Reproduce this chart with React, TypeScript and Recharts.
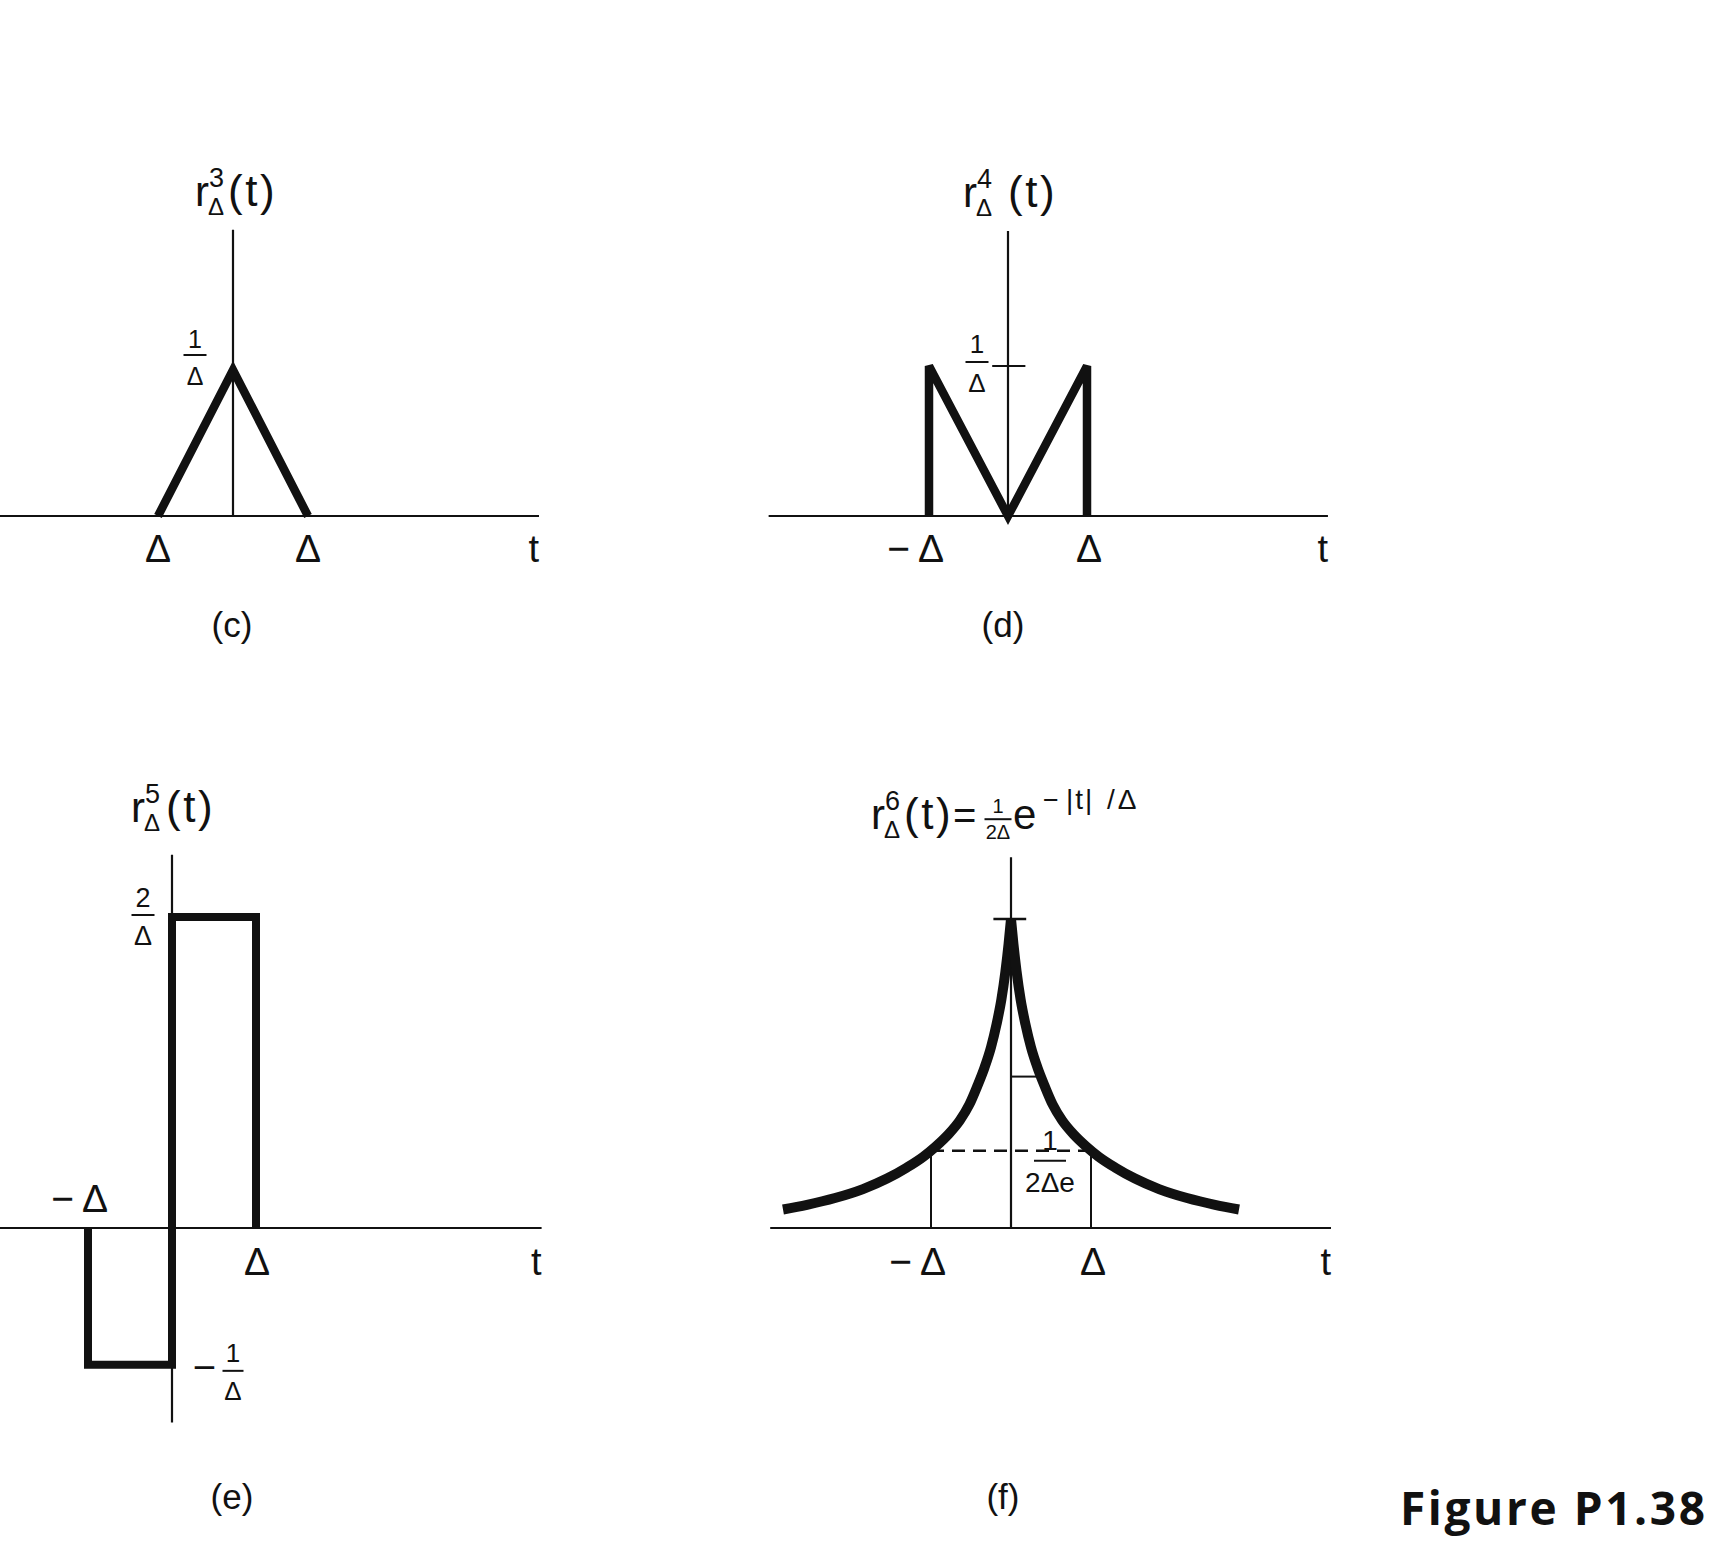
import React from 'react';
import { LineChart, Line, XAxis, YAxis, ReferenceLine, ReferenceDot } from 'recharts';

const FONT = '"Liberation Sans", Arial, Helvetica, sans-serif';
const INK = '#111111';

// ---------------- values (t in units of Δ) ----------------
// (c) r³Δ(t) — amplitude in units of 1/Δ
const cT = [-1, 0, 1];
const cR = [0, 1, 0];
// (d) r⁴Δ(t)
const dT = [-1, -1, 0, 1, 1];
const dR = [0, 1, 0, 1, 0];
// (e) r⁵Δ(t)
const eT = [-1, -1, 0, 0, 1, 1];
const eR = [0, -0.88, -0.88, 2, 2, 0];
// (f) r⁶Δ(t) — amplitude in units of 1/(2Δ)
const fTLeft = [-2.85, -2.55, -2.2, -1.85, -1.55, -1.3, -1.1, -0.94, -0.78, -0.64, -0.52, -0.42, -0.33, -0.25, -0.18, -0.12, -0.07, -0.03, 0];
const fRLeft = [0.06, 0.075, 0.097, 0.126, 0.16, 0.196, 0.23, 0.264, 0.304, 0.348, 0.4, 0.46, 0.52, 0.585, 0.66, 0.74, 0.83, 0.92, 1.0];
const fTRight = [0, 0.03, 0.07, 0.12, 0.18, 0.25, 0.33, 0.42, 0.52, 0.64, 0.78, 0.94, 1.1, 1.3, 1.55, 1.85, 2.2, 2.55, 2.85];
const fRRight = [1.0, 0.92, 0.83, 0.74, 0.66, 0.585, 0.52, 0.46, 0.4, 0.348, 0.304, 0.264, 0.23, 0.196, 0.16, 0.126, 0.097, 0.075, 0.06];

// axis extents
const cAxisT = [-3.11, 4.08];
const cAxisR = [0, 1.96];
const dAxisT = [-3.03, 4.05];
const dAxisR = [0, 1.9];
const eAxisT = [-2.05, 4.4];
const eAxisR = [-1.25, 2.4];
const fAxisT = [-3.01, 4.0];
const fAxisR = [0, 1.2];

// marked levels and guide lines
const cLevel = 1;
const dLevel = 1;
const dTickSpan = [-0.2, 0.22];
const eTop = 2;
const eBottom = -0.88;
const fPeak = 1;
const fPeakTickSpan = [-0.22, 0.19];
const fGuideLevel = 0.25; // 1/(2Δe)
const fGuideT = [-1, 1];
const fInnerLevel = 0.49;
const fInnerT = [0, 0.375];

// text
const xTickT = [-1, 1];
const cTickText = ['Δ', 'Δ'];
const dTickText = ['−Δ', 'Δ'];
const eTickText = ['−Δ', 'Δ'];
const fTickText = ['−Δ', 'Δ'];
const superscripts = ['3', '4', '5', '6'];
const captions = ['(c)', '(d)', '(e)', '(f)'];
const figureLabel = 'Figure P1.38';

// ---------------- tables built from the arrays ----------------
const cData = cT.map((t, i) => ({ t, r: cR[i] }));
const dData = dT.map((t, i) => ({ t, r: dR[i] }));
const eData = eT.map((t, i) => ({ t, r: eR[i] }));
const fData = [
  ...fTLeft.map((t, i) => ({ t, left: fRLeft[i], right: null as number | null })),
  ...fTRight.map((t, i) => ({ t, left: null as number | null, right: fRRight[i] })),
];

// ---------------- layout ----------------
type Geo = { ox: number; oy: number; ux: number; uy: number; box: [number, number, number, number] };
const geoC: Geo = { ox: 233, oy: 516, ux: 75, uy: 146, box: [0, 140, 600, 680] };
const geoD: Geo = { ox: 1008, oy: 516, ux: 79, uy: 150, box: [740, 140, 1360, 680] };
const geoE: Geo = { ox: 172, oy: 1228, ux: 84, uy: 155.5, box: [0, 760, 600, 1545] };
const geoF: Geo = { ox: 1011, oy: 1228, ux: 80, uy: 309, box: [740, 760, 1380, 1545] };

function Panel({ geo, data, children }: { geo: Geo; data: any[]; children: React.ReactNode }) {
  const [l, t, r, b] = geo.box;
  const w = r - l;
  const h = b - t;
  const xDom = [(l - geo.ox) / geo.ux, (r - geo.ox) / geo.ux];
  const yDom = [(geo.oy - b) / geo.uy, (geo.oy - t) / geo.uy];
  return (
    <div style={{ position: 'absolute', left: l, top: t, width: w, height: h }}>
      <LineChart width={w} height={h} data={data} margin={{ top: 0, right: 0, bottom: 0, left: 0 }}>
        <XAxis type="number" dataKey="t" domain={xDom} allowDataOverflow hide />
        <YAxis type="number" domain={yDom} allowDataOverflow hide />
        {children}
      </LineChart>
    </div>
  );
}

const txt = (x: number, y: number, s: string, size: number, anchor: string = 'middle', key?: string, ls?: number) => (
  <text key={key} x={x} y={y} fontSize={size} fontFamily={FONT} fill={INK} textAnchor={anchor as any} letterSpacing={ls}>
    {s}
  </text>
);

function mark(key: string, x: number, y: number, draw: (cx: number, cy: number) => React.ReactElement) {
  return (
    <ReferenceDot
      key={key}
      x={x}
      y={y}
      r={0}
      fill="none"
      stroke="none"
      ifOverflow="visible"
      isFront
      shape={(p: any) => draw(p.cx, p.cy)}
    />
  );
}

function seg(key: string, x1: number, y1: number, x2: number, y2: number, width = 2, dash?: string) {
  return (
    <ReferenceLine
      key={key}
      segment={[{ x: x1, y: y1 }, { x: x2, y: y2 }]}
      stroke={INK}
      strokeWidth={width}
      strokeDasharray={dash}
      ifOverflow="visible"
    />
  );
}

const axes = (k: string, tx: number[], ry: number[]) => [
  seg(k + 'x', tx[0], 0, tx[1], 0, 2.2),
  seg(k + 'y', 0, ry[0], 0, ry[1], 2.2),
];

// tick label such as "Δ" or "−Δ" centred (by its Δ) on x
const tickLabel = (x: number, y: number, s: string, size = 39) => {
  if (s.startsWith('−')) {
    return (
      <text x={x + 13} y={y} fontSize={size} fontFamily={FONT} fill={INK} textAnchor="end">
        −<tspan dx={8}>Δ</tspan>
      </text>
    );
  }
  return txt(x, y, s, size);
};

const frac = (cx: number, numY: number, barY: number, denY: number, num: string, den: string, size: number, barW: number) => (
  <g>
    {txt(cx, numY, num, size)}
    <line x1={cx - barW / 2} x2={cx + barW / 2} y1={barY} y2={barY} stroke={INK} strokeWidth={2} />
    {txt(cx, denY, den, size)}
  </g>
);

// r^n_Δ(t) title: x = left of "r", y = baseline
const rTitle = (x: number, y: number, n: string, gap: number) => (
  <g>
    {txt(x, y, 'r', 42, 'start')}
    {txt(x + 14, y - 19, n, 27, 'start')}
    {txt(x + 13, y + 9, 'Δ', 24, 'start')}
    {txt(x + gap, y, '(t)', 44, 'start', undefined, 2.5)}
  </g>
);

const fTitle = (x: number, y: number) => (
  <g>
    {rTitle(x, y, superscripts[3], 33)}
    {txt(x + 82, y, '=', 40, 'start')}
    {frac(x + 127, y - 16, y - 10, y + 10, '1', '2Δ', 20, 27)}
    {txt(x + 142, y, 'e', 42, 'start')}
    {txt(x + 172, y - 20, '−', 27, 'start')}
    {txt(x + 195, y - 20, '|t|', 28, 'start', undefined, 2)}
    {txt(x + 236, y - 20, '/Δ', 28, 'start', undefined, 3)}
  </g>
);

const lineProps = {
  type: 'linear' as const,
  stroke: INK,
  dot: false,
  activeDot: false,
  isAnimationActive: false,
  strokeLinejoin: 'miter' as const,
  strokeMiterlimit: 4,
};

export default function App() {
  return (
    <div style={{ position: 'absolute', left: 0, top: 0, width: 1736, height: 1558, background: '#ffffff', overflow: 'hidden' }}>
      <style>{'.recharts-surface{overflow:visible}'}</style>

      {/* (c) */}
      <Panel geo={geoC} data={cData}>
        {axes('c', cAxisT, cAxisR)}
        <Line dataKey="r" {...lineProps} strokeWidth={8.5} />
        {xTickT.map((t, i) => mark('ct' + i, t, 0, (x, y) => tickLabel(x, y + 46, cTickText[i])))}
        {mark('ctt', cAxisT[1], 0, (x, y) => txt(x, y + 46, 't', 38, 'end'))}
        {mark('cy', 0, cLevel, (x, y) => frac(x - 38, y - 22, y - 15, y + 15, '1', 'Δ', 25, 23))}
        {mark('ctitle', 0, cAxisR[1], (x, y) => rTitle(x - 38, y - 24, superscripts[0], 33))}
        {mark('ccap', 0, 0, (x, y) => txt(x - 1, y + 121, captions[0], 35))}
      </Panel>

      {/* (d) */}
      <Panel geo={geoD} data={dData}>
        {axes('d', dAxisT, dAxisR)}
        <Line dataKey="r" {...lineProps} strokeWidth={8.5} />
        {seg('dtick', dTickSpan[0], dLevel, dTickSpan[1], dLevel, 2)}
        {xTickT.map((t, i) => mark('dt' + i, t, 0, (x, y) => tickLabel(x + 2, y + 46, dTickText[i])))}
        {mark('dtt', dAxisT[1], 0, (x, y) => txt(x, y + 46, 't', 38, 'end'))}
        {mark('dy', 0, dLevel, (x, y) => frac(x - 31, y - 13, y - 4, y + 26, '1', 'Δ', 26, 23))}
        {mark('dtitle', 0, dAxisR[1], (x, y) => rTitle(x - 45, y - 24, superscripts[1], 45))}
        {mark('dcap', 0, 0, (x, y) => txt(x - 5, y + 121, captions[1], 35))}
      </Panel>

      {/* (e) */}
      <Panel geo={geoE} data={eData}>
        {axes('e', eAxisT, eAxisR)}
        <Line dataKey="r" {...lineProps} strokeWidth={8} />
        {mark('et0', xTickT[0], 0, (x, y) => tickLabel(x + 7, y - 16, eTickText[0]))}
        {mark('et1', xTickT[1], 0, (x, y) => tickLabel(x + 1, y + 47, eTickText[1]))}
        {mark('ett', eAxisT[1], 0, (x, y) => txt(x, y + 47, 't', 38, 'end'))}
        {mark('ey2', 0, eTop, (x, y) => frac(x - 29, y - 10, y - 2, y + 28, '2', 'Δ', 27, 23))}
        {mark('ey1', 0, eBottom, (x, y) => (
          <g>
            {txt(x + 44, y + 16, '−', 40, 'end')}
            {frac(x + 61, y - 3, y + 6, y + 35, '1', 'Δ', 26, 21)}
          </g>
        ))}
        {mark('etitle', 0, eAxisR[1], (x, y) => rTitle(x - 41, y - 33, superscripts[2], 35))}
        {mark('ecap', 0, 0, (x, y) => txt(x + 60, y + 281, captions[2], 35))}
      </Panel>

      {/* (f) */}
      <Panel geo={geoF} data={fData}>
        {axes('f', fAxisT, fAxisR)}
        {seg('fg', fGuideT[0], fGuideLevel, fGuideT[1], fGuideLevel, 2.5, '13 8')}
        {seg('fv0', fGuideT[0], 0, fGuideT[0], fGuideLevel, 2)}
        {seg('fv1', fGuideT[1], 0, fGuideT[1], fGuideLevel, 2)}
        {seg('fin', fInnerT[0], fInnerLevel, fInnerT[1], fInnerLevel, 2)}
        {seg('fpk', fPeakTickSpan[0], fPeak, fPeakTickSpan[1], fPeak, 2.5)}
        <Line dataKey="left" {...lineProps} type="monotone" strokeWidth={10} />
        <Line dataKey="right" {...lineProps} type="monotone" strokeWidth={10} />
        {xTickT.map((t, i) => mark('ft' + i, t, 0, (x, y) => tickLabel(x + 2, y + 47, fTickText[i])))}
        {mark('ftt', fAxisT[1], 0, (x, y) => txt(x, y + 47, 't', 38, 'end'))}
        {mark('fy', 0, fGuideLevel, (x, y) => frac(x + 39, y - 1, y + 10, y + 41, '1', '2Δe', 28, 32))}
        {mark('ftitle', 0, fAxisR[1], (x, y) => fTitle(x - 140, y - 28))}
        {mark('fcap', 0, 0, (x, y) => txt(x - 8, y + 281, captions[3], 35))}
      </Panel>

      <svg style={{ position: 'absolute', left: 0, top: 0 }} width={1736} height={1558} pointerEvents="none">
        <text x={1400} y={1525} fontSize={46} fontWeight={700} fontFamily='"Open Sans", "Noto Sans", sans-serif' fill={INK} letterSpacing={2.6}>
          {figureLabel}
        </text>
      </svg>
    </div>
  );
}
